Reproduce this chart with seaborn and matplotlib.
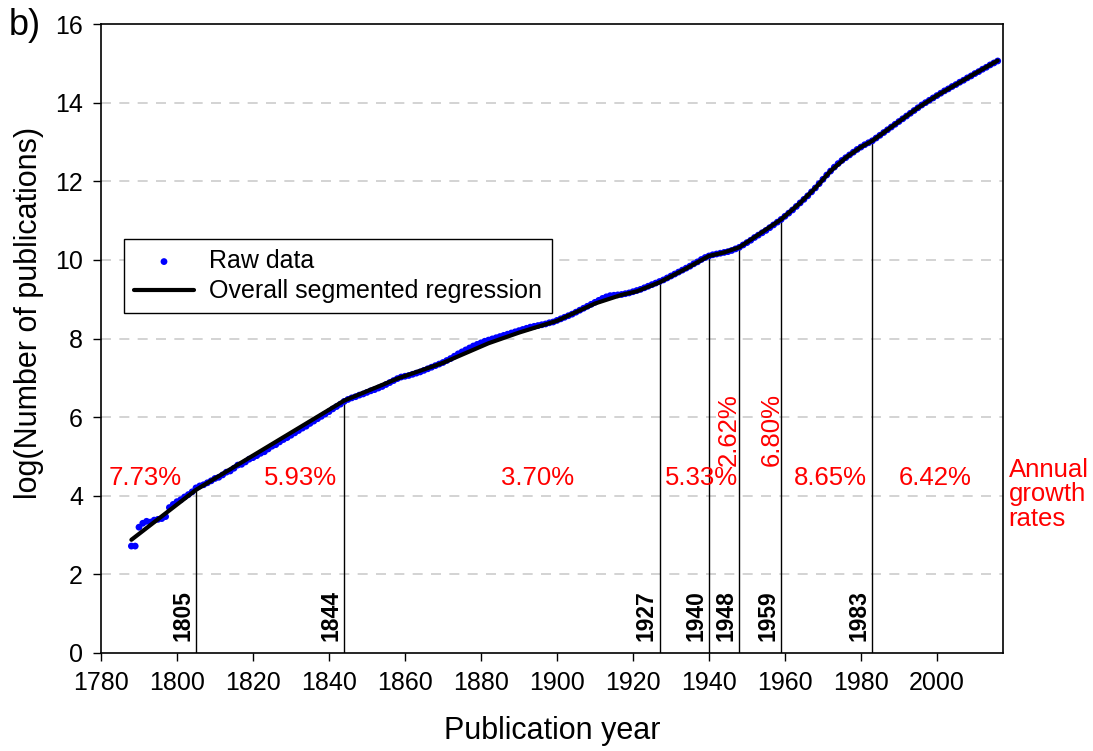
import numpy as np
import pandas as pd
import seaborn as sns
import matplotlib.pyplot as plt

# raw yearly data, log(number of publications)
raw_years = list(range(1788, 2017))
raw_log = [
    2.72, 2.72, 3.20, 3.30, 3.35, 3.33, 3.38, 3.40, 3.42, 3.47,  # 1788-1797
    3.70, 3.78, 3.85, 3.90, 3.97, 4.03, 4.10, 4.20, 4.25, 4.28,  # 1798-1807
    4.33, 4.38, 4.44, 4.47, 4.53, 4.60, 4.63, 4.70, 4.78, 4.80,  # 1808-1817
    4.86, 4.93, 4.97, 5.02, 5.08, 5.12, 5.19, 5.26, 5.30, 5.37,  # 1818-1827
    5.43, 5.48, 5.54, 5.60, 5.66, 5.72, 5.77, 5.84, 5.90, 5.96,  # 1828-1837
    6.02, 6.08, 6.14, 6.21, 6.27, 6.33, 6.40, 6.45, 6.49, 6.52,  # 1838-1847
    6.56, 6.59, 6.63, 6.67, 6.70, 6.74, 6.78, 6.83, 6.88, 6.93,  # 1848-1857
    6.98, 7.02, 7.04, 7.06, 7.09, 7.12, 7.15, 7.19, 7.23, 7.27,  # 1858-1867
    7.31, 7.35, 7.39, 7.44, 7.49, 7.55, 7.61, 7.66, 7.71, 7.76,  # 1868-1877
    7.81, 7.85, 7.89, 7.93, 7.96, 7.99, 8.02, 8.05, 8.08, 8.11,  # 1878-1887
    8.14, 8.17, 8.20, 8.23, 8.26, 8.29, 8.31, 8.33, 8.35, 8.37,  # 1888-1897
    8.40, 8.42, 8.46, 8.50, 8.54, 8.58, 8.62, 8.67, 8.72, 8.77,  # 1898-1907
    8.82, 8.87, 8.92, 8.97, 9.02, 9.06, 9.09, 9.10, 9.11, 9.12,  # 1908-1917
    9.14, 9.16, 9.19, 9.22, 9.25, 9.29, 9.33, 9.37, 9.41, 9.45,  # 1918-1927
    9.49, 9.54, 9.59, 9.64, 9.69, 9.74, 9.79, 9.84, 9.90, 9.95,  # 1928-1937
    10.01, 10.06, 10.10, 10.13, 10.15, 10.17, 10.19, 10.21, 10.24, 10.28,  # 1938-1947
    10.32, 10.38, 10.44, 10.50, 10.57, 10.63, 10.69, 10.75, 10.82, 10.89,  # 1948-1957
    10.96, 11.03, 11.11, 11.19, 11.27, 11.36, 11.45, 11.54, 11.63, 11.73,  # 1958-1967
    11.83, 11.94, 12.05, 12.16, 12.26, 12.36, 12.45, 12.53, 12.60, 12.67,  # 1968-1977
    12.74, 12.81, 12.87, 12.93, 12.98, 13.03, 13.10, 13.17, 13.24, 13.31,  # 1978-1987
    13.38, 13.45, 13.52, 13.59, 13.66, 13.73, 13.80, 13.87, 13.94, 14.00,  # 1988-1997
    14.06, 14.12, 14.18, 14.24, 14.30, 14.35, 14.41, 14.46, 14.52, 14.57,  # 1998-2007
    14.63, 14.68, 14.74, 14.79, 14.85, 14.90, 14.96, 15.01, 15.06,        # 2008-2016
]

# segmented regression curve
fit_years = [1788, 1805, 1844, 1858, 1870, 1882, 1890, 1900, 1910, 1917, 1921, 1927,
             1934, 1940, 1944, 1948, 1953, 1959, 1964, 1968, 1972, 1976, 1980, 1983,
             1990, 1995, 2000, 2005, 2010, 2016]
fit_log = [2.88, 4.15, 6.42, 6.98, 7.38, 7.88, 8.15, 8.45, 8.89, 9.11, 9.20, 9.43,
           9.78, 10.10, 10.19, 10.32, 10.64, 11.03, 11.45, 11.83, 12.26, 12.60, 12.87, 13.03,
           13.52, 13.87, 14.18, 14.46, 14.74, 15.07]

# breakpoints
break_years = [1805, 1844, 1927, 1940, 1948, 1959, 1983]
break_log = [4.15, 6.42, 9.43, 10.10, 10.32, 11.03, 13.03]

# annual growth rates per segment
rate_labels = ["7.73%", "5.93%", "3.70%", "5.33%", "2.62%", "6.80%", "8.65%", "6.42%"]
rate_x = [1791.5, 1832.5, 1895, 1938, 1945.3, 1956.5, 1972, 1999.5]
rate_y = [4.45, 4.45, 4.45, 4.45, 5.68, 5.68, 4.45, 4.45]
rate_rot = [0, 0, 0, 0, 90, 90, 0, 0]

raw = pd.DataFrame({"year": raw_years, "log_pubs": raw_log})
fit = pd.DataFrame({"year": fit_years, "log_pubs": fit_log})

sns.set_style("white")
plt.rcParams['font.family'] = ['Liberation Sans', 'DejaVu Sans']
plt.rcParams['text.color'] = 'black'
plt.rcParams['axes.labelcolor'] = 'black'
plt.rcParams['xtick.color'] = 'black'
plt.rcParams['ytick.color'] = 'black'

fig = plt.figure(figsize=(10.93, 7.51), dpi=100)
ax = fig.add_axes([0.0924, 0.1305, 0.8253, 0.8375])

for y in range(2, 16, 2):
    ax.axhline(y, color='#cccccc', lw=1.2, ls=(0, (6, 5)), zorder=0)

ax.vlines(break_years, 0, break_log, color='black', lw=1.0, zorder=2)

sns.scatterplot(data=raw, x="year", y="log_pubs", color='blue', s=24,
                edgecolor='none', label="Raw data", ax=ax, zorder=3)
sns.lineplot(data=fit, x="year", y="log_pubs", color='black', lw=3,
             label="Overall segmented regression", ax=ax, zorder=4)

for yr in break_years:
    ax.text(yr - 0.5, 0.3, str(yr), rotation=90, ha='right', va='bottom',
            fontsize=16.5, fontweight='bold', color='black')

for lab, x, y, r in zip(rate_labels, rate_x, rate_y, rate_rot):
    ax.text(x, y, lab, rotation=r, ha='center', va='center', fontsize=18.5, color='red')

ax.text(1.006, 0.252, "Annual\ngrowth\nrates", transform=ax.transAxes, ha='left',
        va='center', fontsize=18.5, color='red', linespacing=1.05)

ax.set_xlim(1780, 2017.4)
ax.set_ylim(0, 16)
ax.set_xticks(range(1780, 2001, 20))
ax.set_yticks(range(0, 17, 2))
ax.tick_params(axis='both', direction='out', length=6, width=1, labelsize=18,
               bottom=True, left=True, color='black')
ax.tick_params(axis='x', pad=7)
ax.tick_params(axis='y', pad=7)
for s in ax.spines.values():
    s.set_color('black')
    s.set_linewidth(1.2)

ax.set_xlabel("Publication year", fontsize=22, labelpad=15)
ax.set_ylabel("log(Number of publications)", fontsize=22)
ax.yaxis.set_label_coords(-0.063, 0.54)

leg = ax.legend(loc='upper left', bbox_to_anchor=(0.0255, 0.658), borderaxespad=0,
                fontsize=18, frameon=True, fancybox=False, edgecolor='black',
                framealpha=1, handlelength=2.4, borderpad=0.4, labelspacing=0.25,
                handletextpad=0.6)
leg.get_frame().set_linewidth(1.0)

fig.text(0.008, 0.99, "b)", fontsize=26, ha='left', va='top')

fig.savefig("out.png", dpi=100)
